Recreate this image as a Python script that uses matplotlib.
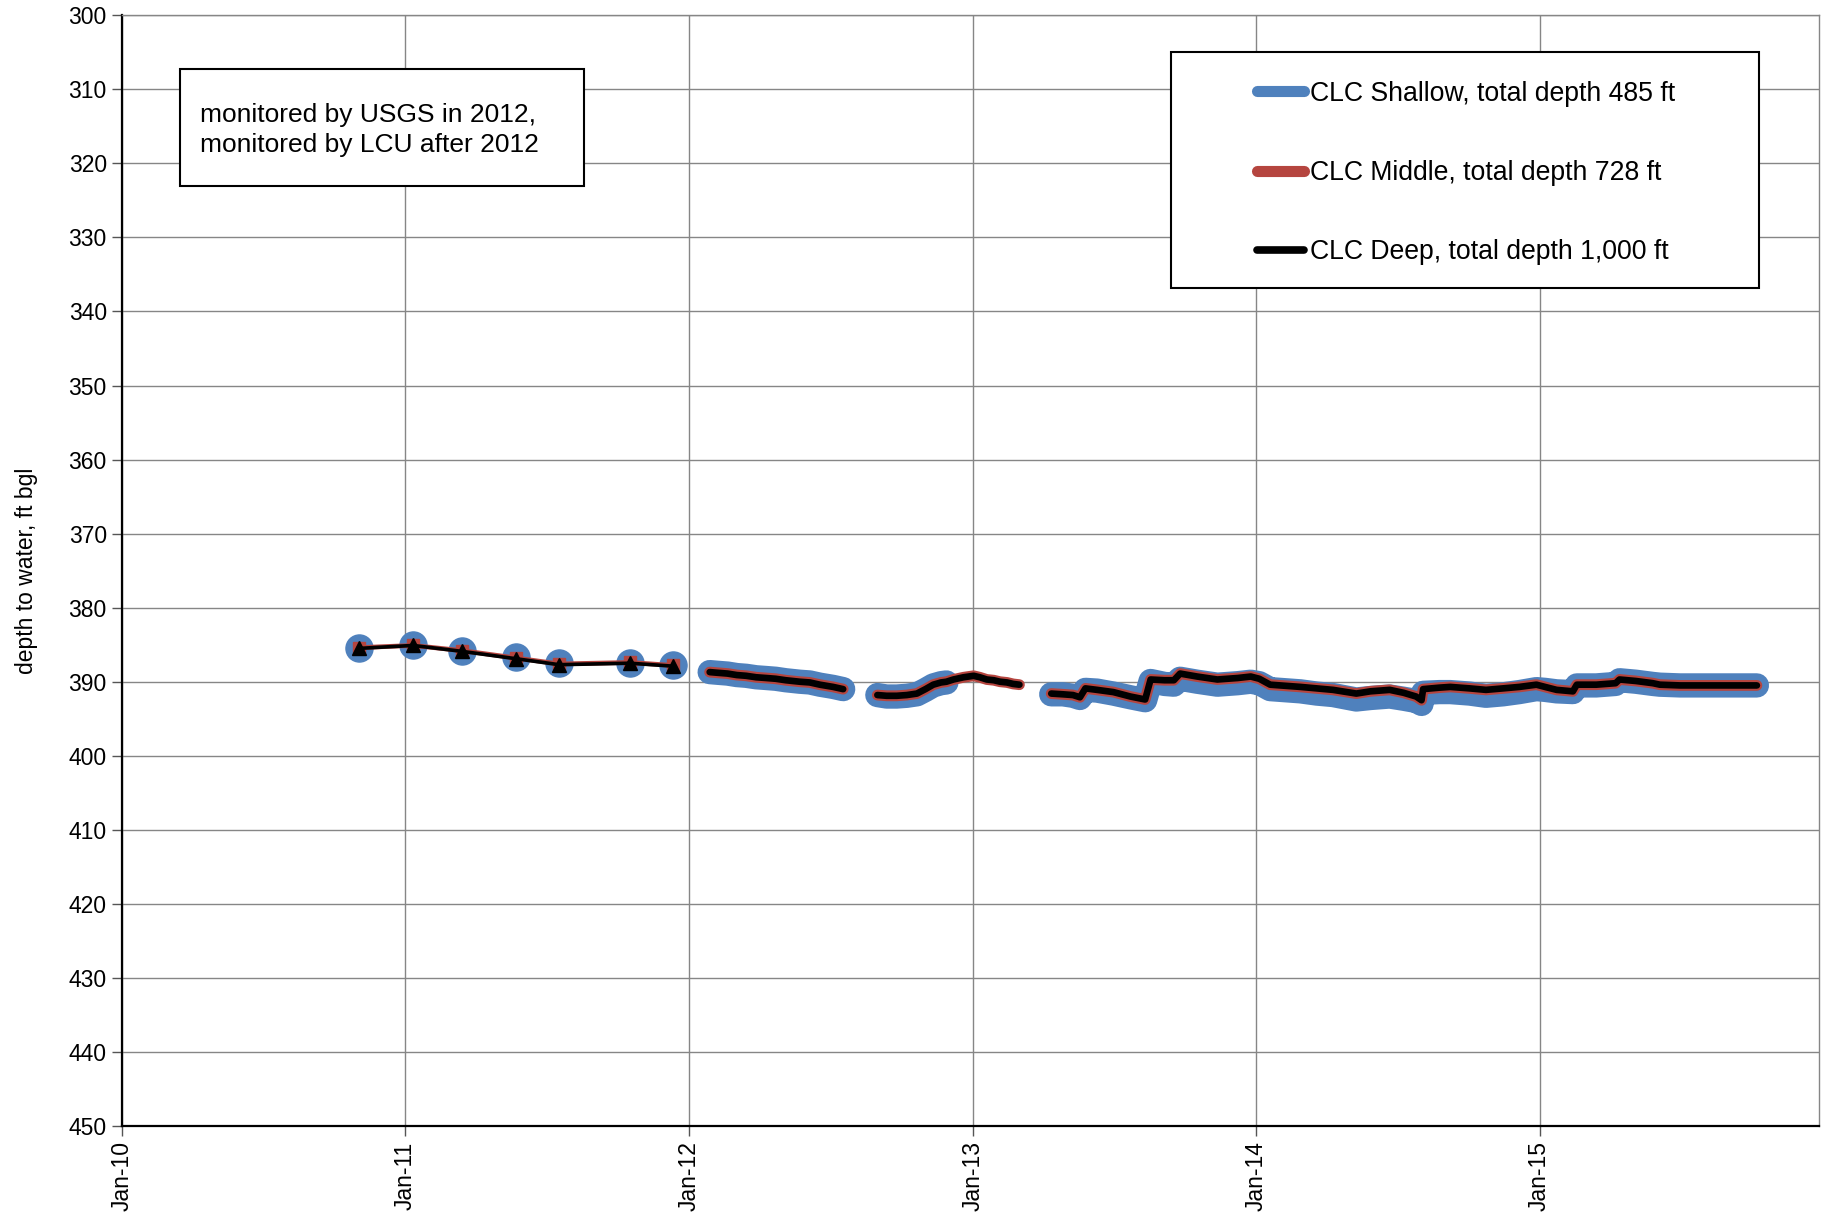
import numpy as np
import pandas as pd
import matplotlib
matplotlib.use("Agg")
import matplotlib.pyplot as plt
import matplotlib.dates as mdates
from matplotlib.lines import Line2D
from matplotlib.patches import Rectangle

plt.rcParams['font.family'] = ['Liberation Sans', 'DejaVu Sans']

# USGS manual measurements (2010-2011)
usgs_dates = ["2010-11-02", "2011-01-11", "2011-03-15", "2011-05-24",
              "2011-07-18", "2011-10-17", "2011-12-12"]
usgs_shallow = [385.4, 385.0, 385.8, 386.6, 387.5, 387.5, 387.7]
usgs_middle = [385.4, 385.1, 385.8, 386.8, 387.6, 387.4, 387.8]
usgs_deep = [385.5, 385.1, 385.9, 386.9, 387.7, 387.5, 387.9]

# LCU transducer records (NaN = gap in record)
logger_dates = [
    "2012-01-28", "2012-02-08", "2012-02-20", "2012-03-03", "2012-03-15",
    "2012-03-28", "2012-04-10", "2012-04-22", "2012-05-05", "2012-05-23",
    "2012-06-05", "2012-06-18", "2012-07-05", "2012-07-18", "2012-08-01",
    "2012-08-31", "2012-09-12", "2012-09-25", "2012-10-08", "2012-10-21",
    "2012-11-01", "2012-11-11", "2012-11-21", "2012-11-28", "2012-12-07",
    "2012-12-20", "2013-01-02", "2013-01-10", "2013-01-19", "2013-01-28",
    "2013-02-05", "2013-02-14", "2013-02-22", "2013-03-02", "2013-03-20",
    "2013-04-12", "2013-04-27", "2013-05-10", "2013-05-19", "2013-05-26",
    "2013-06-10", "2013-07-01", "2013-07-23", "2013-08-11", "2013-08-18",
    "2013-09-05", "2013-09-17", "2013-09-25", "2013-10-17", "2013-11-12",
    "2013-12-08", "2013-12-25", "2014-01-05", "2014-01-19", "2014-02-27",
    "2014-03-20", "2014-04-10", "2014-05-10", "2014-05-28", "2014-06-22",
    "2014-07-10", "2014-07-26", "2014-08-02", "2014-08-04", "2014-08-25",
    "2014-09-08", "2014-10-03", "2014-10-24", "2014-11-15", "2014-12-06",
    "2014-12-28", "2015-01-08", "2015-01-23", "2015-02-13", "2015-02-18",
    "2015-03-15", "2015-04-09", "2015-04-14", "2015-05-05", "2015-05-27",
    "2015-06-05", "2015-07-01", "2015-08-01", "2015-09-01", "2015-10-08",
]
nan = np.nan
logger_shallow = [
    388.7, 388.8, 388.9, 389.1, 389.2,
    389.4, 389.5, 389.6, 389.8, 390.0,
    390.1, 390.4, 390.7, 391.0, nan,
    391.8, 392.0, 392.0, 391.9, 391.7,
    391.1, 390.5, 390.2, 390.1, nan,
    nan, nan, nan, nan, nan,
    nan, nan, nan, nan, nan,
    391.7, 391.7, 391.9, 392.2, 391.1,
    391.2, 391.6, 392.1, 392.5, 389.9,
    390.3, 390.4, 389.6, 390.0, 390.4,
    390.2, 390.0, 390.2, 391.0, 391.3,
    391.6, 391.8, 392.4, 392.2, 392.0,
    392.3, 392.6, 393.0, 391.5, 391.4,
    391.4, 391.6, 391.9, 391.7, 391.4,
    391.0, 391.1, 391.3, 391.4, 390.5,
    390.5, 390.3, 389.8, 390.0, 390.3,
    390.4, 390.5, 390.5, 390.5, 390.5,
]
logger_middle = [
    388.7, 388.8, 388.9, 389.1, 389.2,
    389.4, 389.5, 389.6, 389.8, 390.0,
    390.1, 390.4, 390.7, 391.0, nan,
    391.8, 391.9, 391.9, 391.8, 391.6,
    391.0, 390.4, 390.1, 390.0, 389.7,
    389.4, 389.2, 389.4, 389.7, 389.8,
    390.0, 390.1, 390.3, 390.4, nan,
    391.6, 391.7, 391.8, 392.1, 390.9,
    391.1, 391.4, 392.0, 392.4, 389.7,
    389.8, 389.8, 388.9, 389.3, 389.7,
    389.5, 389.3, 389.6, 390.4, 390.7,
    390.9, 391.1, 391.6, 391.3, 391.1,
    391.5, 392.0, 392.5, 391.0, 390.8,
    390.7, 390.9, 391.1, 390.9, 390.7,
    390.4, 390.7, 391.1, 391.3, 390.4,
    390.4, 390.2, 389.7, 389.9, 390.2,
    390.4, 390.5, 390.5, 390.5, 390.5,
]
logger_deep = [
    388.7, 388.8, 388.9, 389.1, 389.2,
    389.4, 389.5, 389.6, 389.8, 390.0,
    390.1, 390.4, 390.7, 391.0, nan,
    391.8, 391.9, 391.9, 391.8, 391.6,
    391.0, 390.4, 390.1, 390.0, 389.7,
    389.4, 389.2, 389.4, 389.7, 389.8,
    390.0, 390.1, 390.3, 390.4, nan,
    391.6, 391.7, 391.8, 392.1, 390.9,
    391.1, 391.4, 392.0, 392.4, 389.7,
    389.8, 389.8, 388.9, 389.3, 389.7,
    389.5, 389.3, 389.6, 390.4, 390.7,
    390.9, 391.1, 391.6, 391.3, 391.1,
    391.5, 392.0, 392.5, 391.0, 390.8,
    390.7, 390.9, 391.1, 390.9, 390.7,
    390.4, 390.7, 391.1, 391.3, 390.4,
    390.4, 390.2, 389.7, 389.9, 390.2,
    390.4, 390.5, 390.5, 390.5, 390.5,
]

series_labels = ["CLC Shallow, total depth 485 ft",
                 "CLC Middle, total depth 728 ft",
                 "CLC Deep, total depth 1,000 ft"]
note_text = "monitored by USGS in 2012,\nmonitored by LCU after 2012"

BLUE = "#4F81BD"
RED = "#B5453F"
BLACK = "#000000"

W, H = 1823, 1220
fig = plt.figure(figsize=(W / 100, H / 100), dpi=100)
ax = fig.add_axes([122 / W, 1 - 1126 / H, (1819 - 122) / W, (1126 - 15.3) / H])

ud = pd.to_datetime(usgs_dates)
ld = pd.to_datetime(logger_dates)

# USGS points
ax.plot(ud, usgs_shallow, linestyle="none", marker="o", markersize=19.5,
        color=BLUE, zorder=3)
ax.plot(ud, usgs_middle, color=RED, linewidth=3.4, marker="s", markersize=8,
        zorder=4)
ax.plot(ud, usgs_deep, color=BLACK, linewidth=2.6, marker="^", markersize=10,
        zorder=5)

# logger records
line_kw = dict(solid_capstyle="round", solid_joinstyle="round")
ax.plot(ld, logger_shallow, color=BLUE, linewidth=17.5, zorder=3, **line_kw)
ax.plot(ld, logger_middle, color=RED, linewidth=7.8, zorder=4, **line_kw)
ax.plot(ld, logger_deep, color=BLACK, linewidth=4.8, zorder=5, **line_kw)

ax.set_ylim(450, 300)
ax.set_yticks(np.arange(300, 451, 10))
ax.set_xlim(pd.Timestamp("2010-01-01"), pd.Timestamp("2015-12-27"))
ax.xaxis.set_major_locator(mdates.YearLocator())
ax.xaxis.set_major_formatter(mdates.DateFormatter("%b-%y"))
plt.setp(ax.get_xticklabels(), rotation=90)

ax.grid(True, color="#868686", linewidth=1.0, zorder=0)
ax.set_axisbelow(True)
for side in ["top", "right"]:
    ax.spines[side].set_color("#868686")
    ax.spines[side].set_linewidth(1.0)
for side in ["left", "bottom"]:
    ax.spines[side].set_color("black")
    ax.spines[side].set_linewidth(1.6)
ax.tick_params(direction="out", length=7, width=1, color="#555555",
               labelsize=16.5, pad=4)
ax.set_ylabel("depth to water, ft bgl", fontsize=16.5, labelpad=22)

# note box
fig.add_artist(Rectangle((180 / W, 1 - 186 / H), (584 - 180) / W, (186 - 69) / H,
                         transform=fig.transFigure, facecolor="white",
                         edgecolor="black", linewidth=1.5, zorder=6))
fig.text(200 / W, 1 - 130 / H, note_text, fontsize=19, va="center", ha="left",
         linespacing=1.32, zorder=7)

# legend box
fig.add_artist(Rectangle((1171 / W, 1 - 288 / H), (1759 - 1171) / W, (288 - 52) / H,
                         transform=fig.transFigure, facecolor="white",
                         edgecolor="black", linewidth=1.5, zorder=6))
handles = [Line2D([], [], color=BLUE, linewidth=8, solid_capstyle="round"),
           Line2D([], [], color=RED, linewidth=8, solid_capstyle="round"),
           Line2D([], [], color=BLACK, linewidth=5.5, solid_capstyle="round")]
leg = fig.legend(handles, series_labels, loc="center",
                 bbox_to_anchor=(1466 / W, 1 - 173 / H),
                 bbox_transform=fig.transFigure, frameon=False,
                 fontsize=19.2, handlelength=1.75, handletextpad=0.22,
                 labelspacing=2.0, borderpad=0, borderaxespad=0)
leg.set_zorder(8)

fig.savefig("out.png", dpi=100)
